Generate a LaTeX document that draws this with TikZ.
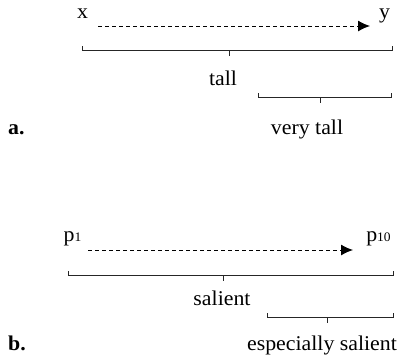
\documentclass[tikz,border=0pt]{standalone}
\usepackage{fontspec}
\setmainfont{Liberation Serif}[FakeStretch=1.04]
\usetikzlibrary{arrows.meta}
\begin{document}
\begin{tikzpicture}[x=1pt,y=-1pt,
  lbl/.style={anchor=base,inner sep=0pt,font=\fontsize{21}{24}\selectfont},
  tag/.style={anchor=base west,inner sep=0pt,font=\fontsize{21}{24}\selectfont\bfseries},
  dasharrow/.style={draw=black,line width=1pt,dash pattern=on 4pt off 3pt,
    -{Latex[length=12pt,width=11pt]}},
  brace/.style={draw=black!85,line width=1pt}]
\useasboundingbox (0,0) rectangle (408,360);
\newcommand{\sub}[1]{{\fontsize{13}{13}\selectfont\raisebox{-0.6pt}{#1}}}
% span bracket: #1 left x, #2 right x, #3 height, #4 position of the middle tick
\newcommand{\spanbrace}[4]{%
  \draw[brace] (#1,#3-4) -- (#1,#3) -- (#2,#3) -- (#2,#3-4);
  \draw[brace] (#4,#3) -- (#4,#3+6);}

% (a) tall / very tall
\node[lbl] (x) at (82.5,18) {x};
\node[lbl] (y) at (384.5,18) {y};
\coordinate (xa) at (98,26);
\coordinate (ya) at (370,26);
\draw[dasharrow] (xa) -- (ya);
\spanbrace{82}{392}{50}{229}
\node[lbl] (tall) at (223,85) {tall};
\spanbrace{258}{391}{97}{320}
\node[lbl] (verytall) at (307,134) {very tall};
\node[tag] (a) at (8,134) {a.};

% (b) salient / especially salient
\node[lbl] (p1) at (72.5,241) {p\sub{1}};
\node[lbl] (p10) at (378.5,241) {p\sub{10}};
\coordinate (pa) at (88,250);
\coordinate (pb) at (353,250);
\draw[dasharrow] (pa) -- (pb);
\spanbrace{68}{393}{275}{223}
\node[lbl] (salient) at (222,305) {salient};
\spanbrace{267}{393}{317}{327}
\node[lbl] (espsal) at (322,350) {especially salient};
\node[tag] (b) at (8,350) {b.};
\end{tikzpicture}
\end{document}
